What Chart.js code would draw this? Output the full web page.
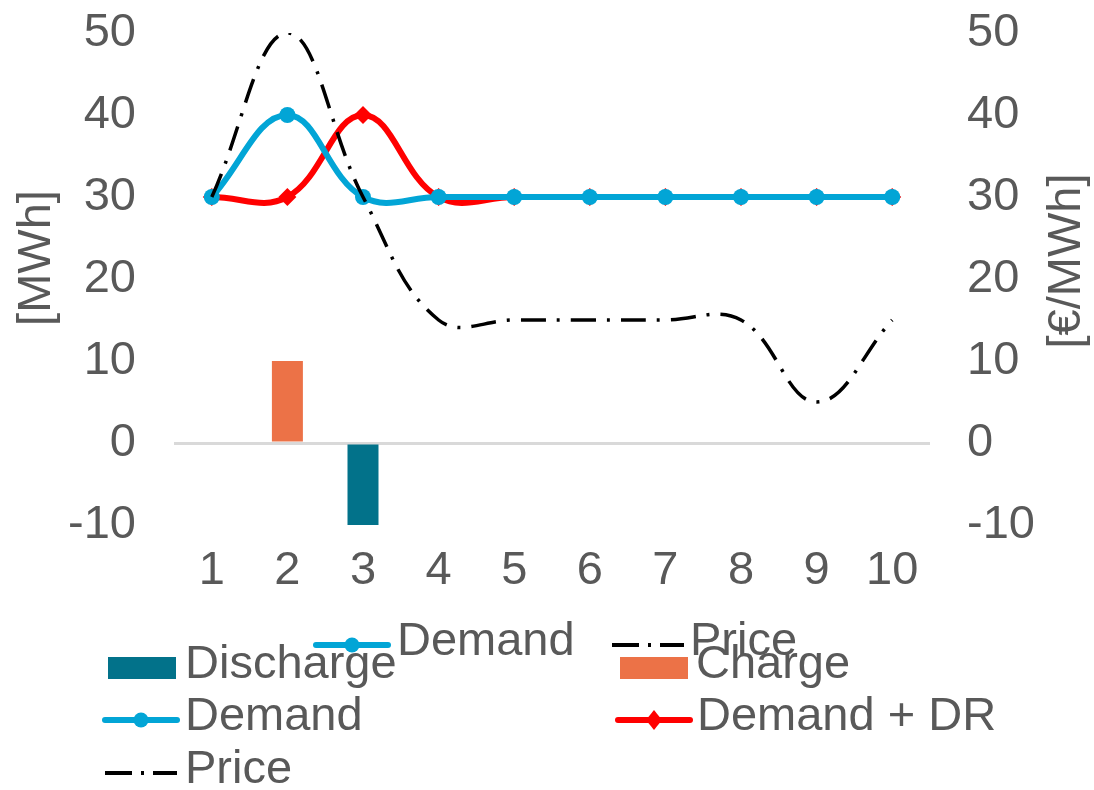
<!DOCTYPE html>
<html>
<head>
<meta charset="utf-8">
<script src="https://cdn.jsdelivr.net/npm/chart.js@4"></script>
<style>
  html, body { margin: 0; padding: 0; background: #fff; }
  #wrap { width: 1094px; height: 790px; position: relative; }
</style>
</head>
<body>
<div id="wrap"><canvas id="chart"></canvas></div>
<script>
// storage / demand response example
const hours = ['1', '2', '3', '4', '5', '6', '7', '8', '9', '10'];
const discharge = [null, null, -10, null, null, null, null, null, null, null];
const charge = [null, 10, null, null, null, null, null, null, null, null];
const demand = [30, 40, 30, 30, 30, 30, 30, 30, 30, 30];
const demandDR = [30, 30, 40, 30, 30, 30, 30, 30, 30, 30];
const price = [30, 50, 30, 15, 15, 15, 15, 15, 5, 15];
const yTicks = [-10, 0, 10, 20, 30, 40, 50];

const FONT = '"Liberation Sans", Arial, Helvetica, sans-serif';
const FONT_SIZE = 47;
const TEXT = '#595959';
const TEAL = '#02728A';
const ORANGE = '#EC7247';
const BLUE = '#02A5D6';
const RED = '#FF0000';
const PRICE_DASH = [25, 11, 3, 11];

Chart.defaults.font.family = FONT;
Chart.defaults.font.size = FONT_SIZE;
Chart.defaults.color = TEXT;

// legend as the reference shows it (including the stray overlapping row)
const legendEntries = [
  { kind: 'line', label: 'Demand', color: BLUE, marker: 'circle', x: 316, y: 645, tx: 397 },
  { kind: 'dash', label: 'Price', color: '#000', x: 612, y: 645, tx: 690 },
  { kind: 'box', label: 'Discharge', color: TEAL, x: 108, y: 668, tx: 185 },
  { kind: 'box', label: 'Charge', color: ORANGE, x: 620, y: 668, tx: 696 },
  { kind: 'line', label: 'Demand', color: BLUE, marker: 'circle', x: 105, y: 720, tx: 185 },
  { kind: 'line', label: 'Demand + DR', color: RED, marker: 'diamond', x: 618, y: 720, tx: 697 },
  { kind: 'dash', label: 'Price', color: '#000', x: 105, y: 773, tx: 185 },
];

const looseLegend = {
  id: 'looseLegend',
  afterDraw(chart) {
    const ctx = chart.ctx;
    ctx.save();
    legendEntries.forEach((e) => {
      const w = 72;
      if (e.kind === 'box') {
        ctx.fillStyle = e.color;
        ctx.fillRect(e.x, e.y - 11, 68, 22);
      } else {
        ctx.strokeStyle = e.color;
        ctx.lineCap = e.kind === 'dash' ? 'butt' : 'round';
        ctx.lineWidth = e.kind === 'dash' ? 4 : 6;
        ctx.setLineDash(e.kind === 'dash' ? [27, 9, 3, 9] : []);
        ctx.beginPath();
        ctx.moveTo(e.x, e.y);
        ctx.lineTo(e.x + w, e.y);
        ctx.stroke();
        ctx.setLineDash([]);
        ctx.fillStyle = e.color;
        const cx = e.x + w / 2;
        if (e.marker === 'circle') {
          ctx.beginPath();
          ctx.arc(cx, e.y, 7.5, 0, Math.PI * 2);
          ctx.fill();
        } else if (e.marker === 'diamond') {
          ctx.beginPath();
          ctx.moveTo(cx, e.y - 10);
          ctx.lineTo(cx + 8, e.y);
          ctx.lineTo(cx, e.y + 10);
          ctx.lineTo(cx - 8, e.y);
          ctx.closePath();
          ctx.fill();
        }
      }
      ctx.fillStyle = TEXT;
      ctx.font = FONT_SIZE + 'px ' + FONT;
      ctx.textAlign = 'left';
      ctx.textBaseline = 'middle';
      ctx.fillText(e.label, e.tx, e.y - 3);
    });
    ctx.restore();
  },
};

// both axis titles read bottom-to-top, like the reference
const axisTitles = {
  id: 'axisTitles',
  afterDraw(chart) {
    const ctx = chart.ctx;
    ctx.save();
    ctx.fillStyle = TEXT;
    ctx.font = FONT_SIZE + 'px ' + FONT;
    ctx.textAlign = 'center';
    ctx.textBaseline = 'middle';
    [['[MWh]', 37, 258], ['[€/MWh]', 1067, 261]].forEach(([txt, x, y]) => {
      ctx.save();
      ctx.translate(x, y);
      ctx.rotate(-Math.PI / 2);
      ctx.fillText(txt, 0, 0);
      ctx.restore();
    });
    ctx.restore();
  },
};

const valueAxis = (position, padding, withZeroLine, width) => ({
  type: 'linear',
  position,
  min: -10,
  max: 50,
  afterBuildTicks: (scale) => { scale.ticks = yTicks.map((v) => ({ value: v })); },
  // fixed width; drop the label overflow padding so the plot top sits where the reference has it
  afterFit: (s) => { s.width = width; s.paddingTop = 0; s.paddingBottom = 0; },
  border: { display: false },
  grid: {
    display: withZeroLine,
    drawTicks: false,
    color: (c) => (c.tick && c.tick.value === 0 ? '#D9D9D9' : 'rgba(0,0,0,0)'),
    lineWidth: 3,
  },
  ticks: { color: TEXT, padding, font: { size: FONT_SIZE } },
});

new Chart(document.getElementById('chart'), {
  data: {
    labels: hours,
    datasets: [
      {
        type: 'line',
        label: 'Price',
        data: price,
        yAxisID: 'y1',
        borderColor: '#000',
        borderWidth: 3.5,
        borderDash: PRICE_DASH,
        pointRadius: 0,
        tension: 0.4,
        order: 0,
      },
      {
        type: 'line',
        label: 'Demand',
        data: demand,
        yAxisID: 'y',
        borderColor: BLUE,
        backgroundColor: BLUE,
        borderWidth: 6,
        pointStyle: 'circle',
        pointRadius: 8,
        pointBorderWidth: 0,
        tension: 0.4,
        order: 1,
      },
      {
        type: 'line',
        label: 'Demand + DR',
        data: demandDR,
        yAxisID: 'y',
        borderColor: RED,
        backgroundColor: RED,
        borderWidth: 6,
        pointStyle: 'rectRot',
        pointRadius: 9,
        pointBorderWidth: 0,
        tension: 0.4,
        order: 2,
      },
      {
        type: 'bar',
        label: 'Discharge',
        data: discharge,
        yAxisID: 'y',
        backgroundColor: TEAL,
        categoryPercentage: 1,
        barPercentage: 0.41,
        order: 3,
      },
      {
        type: 'bar',
        label: 'Charge',
        data: charge,
        yAxisID: 'y',
        backgroundColor: ORANGE,
        categoryPercentage: 1,
        barPercentage: 0.41,
        order: 4,
      },
    ],
  },
  options: {
    responsive: true,
    maintainAspectRatio: false,
    animation: false,
    layout: { padding: { top: 33, bottom: 185, left: 0, right: 0 } },
    plugins: {
      legend: { display: false },
      tooltip: { enabled: false },
    },
    scales: {
      x: {
        stacked: true,
        offset: true,
        border: { display: false },
        grid: { display: false, drawTicks: false },
        ticks: { color: TEXT, padding: 18, font: { size: FONT_SIZE } },
        afterFit: (s) => { s.height = 80; },
      },
      y: valueAxis('left', 38, true, 174),
      y1: valueAxis('right', 37, false, 164),
    },
  },
  plugins: [looseLegend, axisTitles],
});
</script>
</body>
</html>
